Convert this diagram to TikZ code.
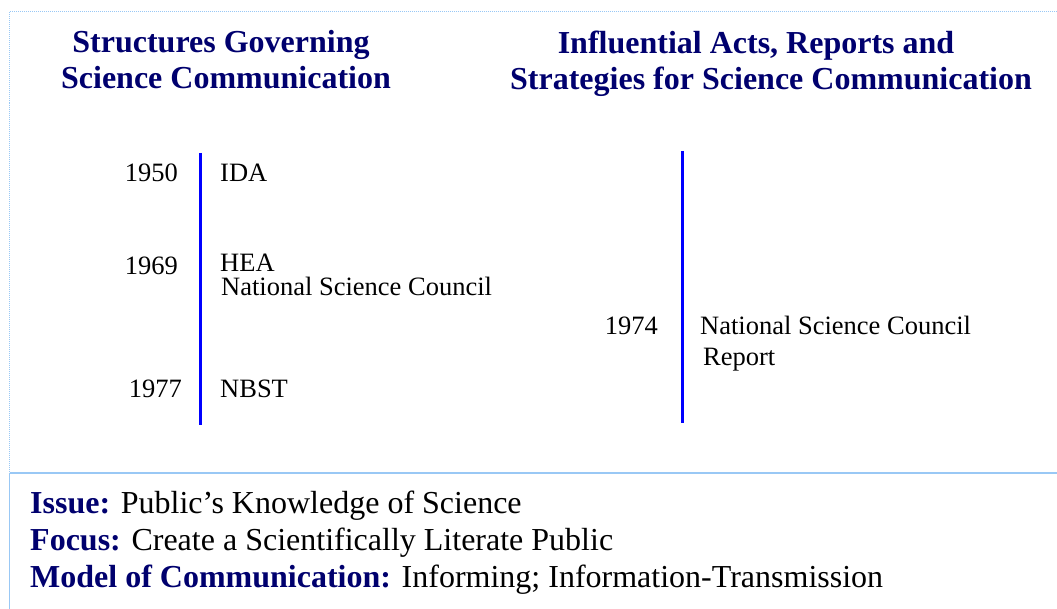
\documentclass[tikz,border=0pt]{standalone}
\usepackage{fontspec}
\setmainfont{Liberation Serif}
\definecolor{navy}{RGB}{0,0,110}
\definecolor{frame}{RGB}{153,200,245}
\definecolor{tline}{RGB}{0,0,255}
\tikzset{
  head/.style={anchor=base, inner sep=0pt, text=navy, font=\fontsize{32}{38}\selectfont\bfseries},
  yearl/.style={anchor=base east, inner sep=0pt, font=\fontsize{26.5}{30}\selectfont},
  item/.style={anchor=base west, inner sep=0pt, font=\fontsize{26.5}{30}\selectfont},
  foot/.style={anchor=base west, inner sep=0pt, font=\fontsize{32}{38}\selectfont},
  timeline/.style={draw=tline, line width=3pt},
  dotframe/.style={draw=frame, line width=1pt, dash pattern=on 1pt off 1pt},
  solidframe/.style={draw=frame, line width=1.5pt}
}
\begin{document}
\begin{tikzpicture}[x=1pt,y=-1pt]
\useasboundingbox (0,0) rectangle (1057,609);
% frame
\coordinate (tl) at (9.5,12);
\coordinate (tr) at (1057,12);
\coordinate (ml) at (9.5,473);
\coordinate (mr) at (1057,473);
\coordinate (bl) at (9.5,609);
\draw[dotframe] (tr) -- (tl) -- (ml);
\draw[solidframe] (ml) -- (mr);
\draw[solidframe] (ml) -- (bl);
% headers
\node[head] (h1a) at (221,53) {Structures Governing};
\node[head] (h1b) at (226,89) {Science Communication};
\node[head] (h2a) at (756,54) {Influential Acts, Reports and};
\node[head] (h2b) at (771,90) {Strategies for Science Communication};
% left timeline
\coordinate (lt) at (200,153);
\coordinate (lb) at (200,425);
\draw[timeline] (lt) -- (lb);
\node[yearl] (y1950) at (178,182) {1950};
\node[item] (ida) at (220,182) {IDA};
\node[yearl] (y1969) at (178,275) {1969};
\node[item] (hea) at (220,272) {HEA};
\node[item] (nsc) at (221,296) {National Science Council};
\node[yearl] (y1977) at (182,397) {1977};
\node[item] (nbst) at (220,397) {NBST};
% right timeline
\coordinate (rt) at (682,151);
\coordinate (rb) at (682,423);
\draw[timeline] (rt) -- (rb);
\node[yearl] (y1974) at (658,335) {1974};
\node[item] (nscr) at (700,335) {National Science Council};
\node[item] (rep) at (703,365) {Report};
% footer
\node[foot] (issue) at (30,513) {\textcolor{navy}{\bfseries Issue:} Public’s Knowledge of Science};
\node[foot] (focus) at (30,550) {\textcolor{navy}{\bfseries Focus:} Create a Scientifically Literate Public};
\node[foot] (model) at (30,587) {\textcolor{navy}{\bfseries Model of Communication:} Informing; Information-Transmission};
\end{tikzpicture}
\end{document}
